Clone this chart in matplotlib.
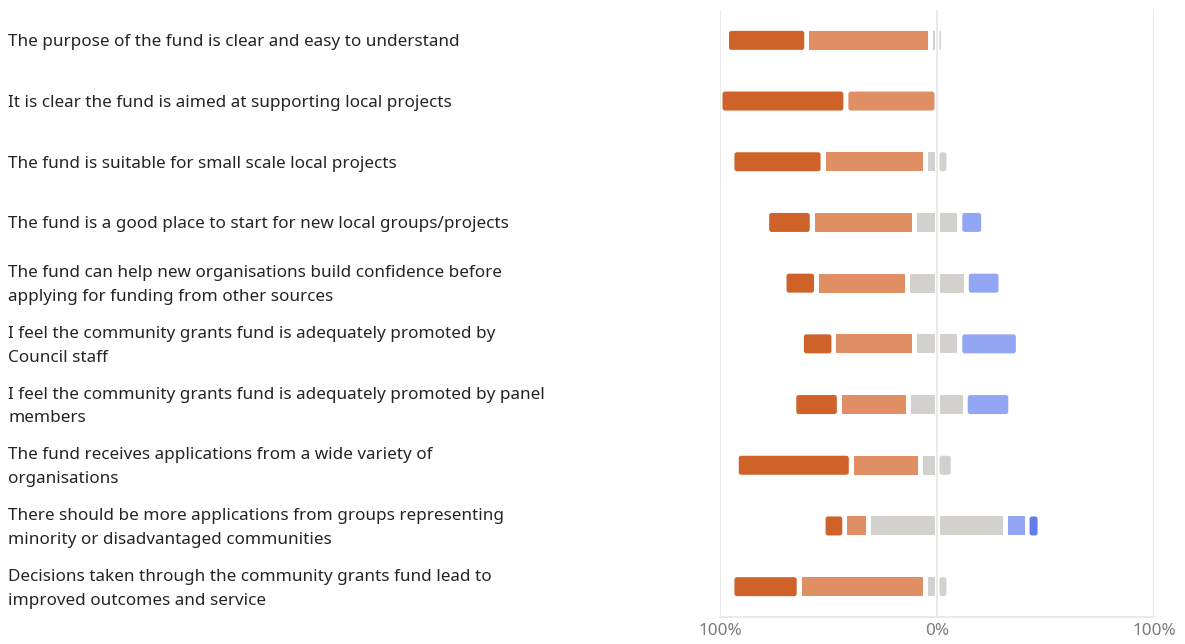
import matplotlib
matplotlib.use("Agg")
import matplotlib.pyplot as plt
import numpy as np
from matplotlib.patches import FancyBboxPatch
from matplotlib.transforms import blended_transform_factory, offset_copy

statements = [
    "The purpose of the fund is clear and easy to understand",
    "It is clear the fund is aimed at supporting local projects",
    "The fund is suitable for small scale local projects",
    "The fund is a good place to start for new local groups/projects",
    "The fund can help new organisations build confidence before\napplying for funding from other sources",
    "I feel the community grants fund is adequately promoted by\nCouncil staff",
    "I feel the community grants fund is adequately promoted by panel\nmembers",
    "The fund receives applications from a wide variety of\norganisations",
    "There should be more applications from groups representing\nminority or disadvantaged communities",
    "Decisions taken through the community grants fund lead to\nimproved outcomes and service",
]

strongly_agree    = [37, 58, 42, 21, 15, 15, 21, 53, 10, 31]
agree             = [57, 42, 47, 47, 42, 37, 32, 32, 11, 58]
neutral           = [6, 0, 11, 21, 27, 21, 26, 15, 63, 11]
disagree          = [0, 0, 0, 11, 16, 27, 21, 0, 10, 0]
strongly_disagree = [0, 0, 0, 0, 0, 0, 0, 0, 6, 0]

tick_values = [-100, 0, 100]
tick_labels = ["100%", "0%", "100%"]

c_sa = "#CF6228"
c_a = "#E08E64"
c_n = "#D3D1CE"
c_d = "#93A6F3"
c_sd = "#627DF0"

plt.rcParams['font.family'] = ['Noto Sans', 'DejaVu Sans']

fig = plt.figure(figsize=(11.85, 6.44), dpi=100)
ax = fig.add_axes([720 / 1185, 27 / 644, 434 / 1185, 607 / 644])
ax.set_xlim(-100, 100)
ax.set_ylim(len(statements) - 0.5, -0.5)

# pixel <-> data conversion
bb = ax.get_window_extent()
px_x = bb.width / 200.0             # pixels per x unit
px_y = bb.height / len(statements)  # pixels per y unit
gap = 5.0 / px_x                    # 5 px gap between segments
bar_h = 19.0 / px_y                 # 19 px bar height
rad = 2.5 / px_x                    # corner radius
aspect = (1.0 / px_y) / (1.0 / px_x)

sa = np.array(strongly_agree, float)
a = np.array(agree, float)
n = np.array(neutral, float)
d = np.array(disagree, float)
sd = np.array(strongly_disagree, float)

bar_kw = dict(height=bar_h, edgecolor="none", linewidth=0, zorder=2)

for i in range(len(statements)):
    bounds = [
        (-n[i] / 2 - a[i] - sa[i], -n[i] / 2 - a[i], c_sa),
        (-n[i] / 2 - a[i], -n[i] / 2, c_a),
        (-n[i] / 2, 0, c_n),
        (0, n[i] / 2, c_n),
        (n[i] / 2, n[i] / 2 + d[i], c_d),
        (n[i] / 2 + d[i], n[i] / 2 + d[i] + sd[i], c_sd),
    ]
    segs = [(x0 + gap / 2, x1 - gap / 2, c) for x0, x1, c in bounds if x1 - x0 > gap]
    for k, (x0, x1, c) in enumerate(segs):
        if k == 0 or k == len(segs) - 1:
            r = min(rad, (x1 - x0) / 2)
            ax.add_patch(FancyBboxPatch((x0, i - bar_h / 2), x1 - x0, bar_h,
                                        boxstyle=f"round,pad=0,rounding_size={r}",
                                        mutation_aspect=aspect, facecolor=c,
                                        edgecolor="none", linewidth=0, zorder=2))
        else:
            ax.barh(i, x1 - x0, left=x0, facecolor=c, **bar_kw)

for v in tick_values:
    ax.axvline(v, color="#E8E8E8", linewidth=1.3, zorder=1)

ax.set_xticks(tick_values)
ax.set_xticklabels(tick_labels, color="#7A7A7A", fontsize=12.3)
ax.tick_params(axis="x", length=0, pad=4)
ax.set_yticks([])
for s in ["left", "right", "top"]:
    ax.spines[s].set_visible(False)
ax.spines["bottom"].set_color("#E8E8E8")
ax.spines["bottom"].set_linewidth(1.3)

trans = blended_transform_factory(fig.transFigure, ax.transData)
trans = offset_copy(trans, fig=fig, y=-2, units="dots")
for i, s in enumerate(statements):
    ax.text(8 / 1185, i, s, transform=trans, ha="left", va="center",
            fontsize=12.3, color="#252423", linespacing=1.65, clip_on=False)

fig.savefig("out.png", dpi=100)
